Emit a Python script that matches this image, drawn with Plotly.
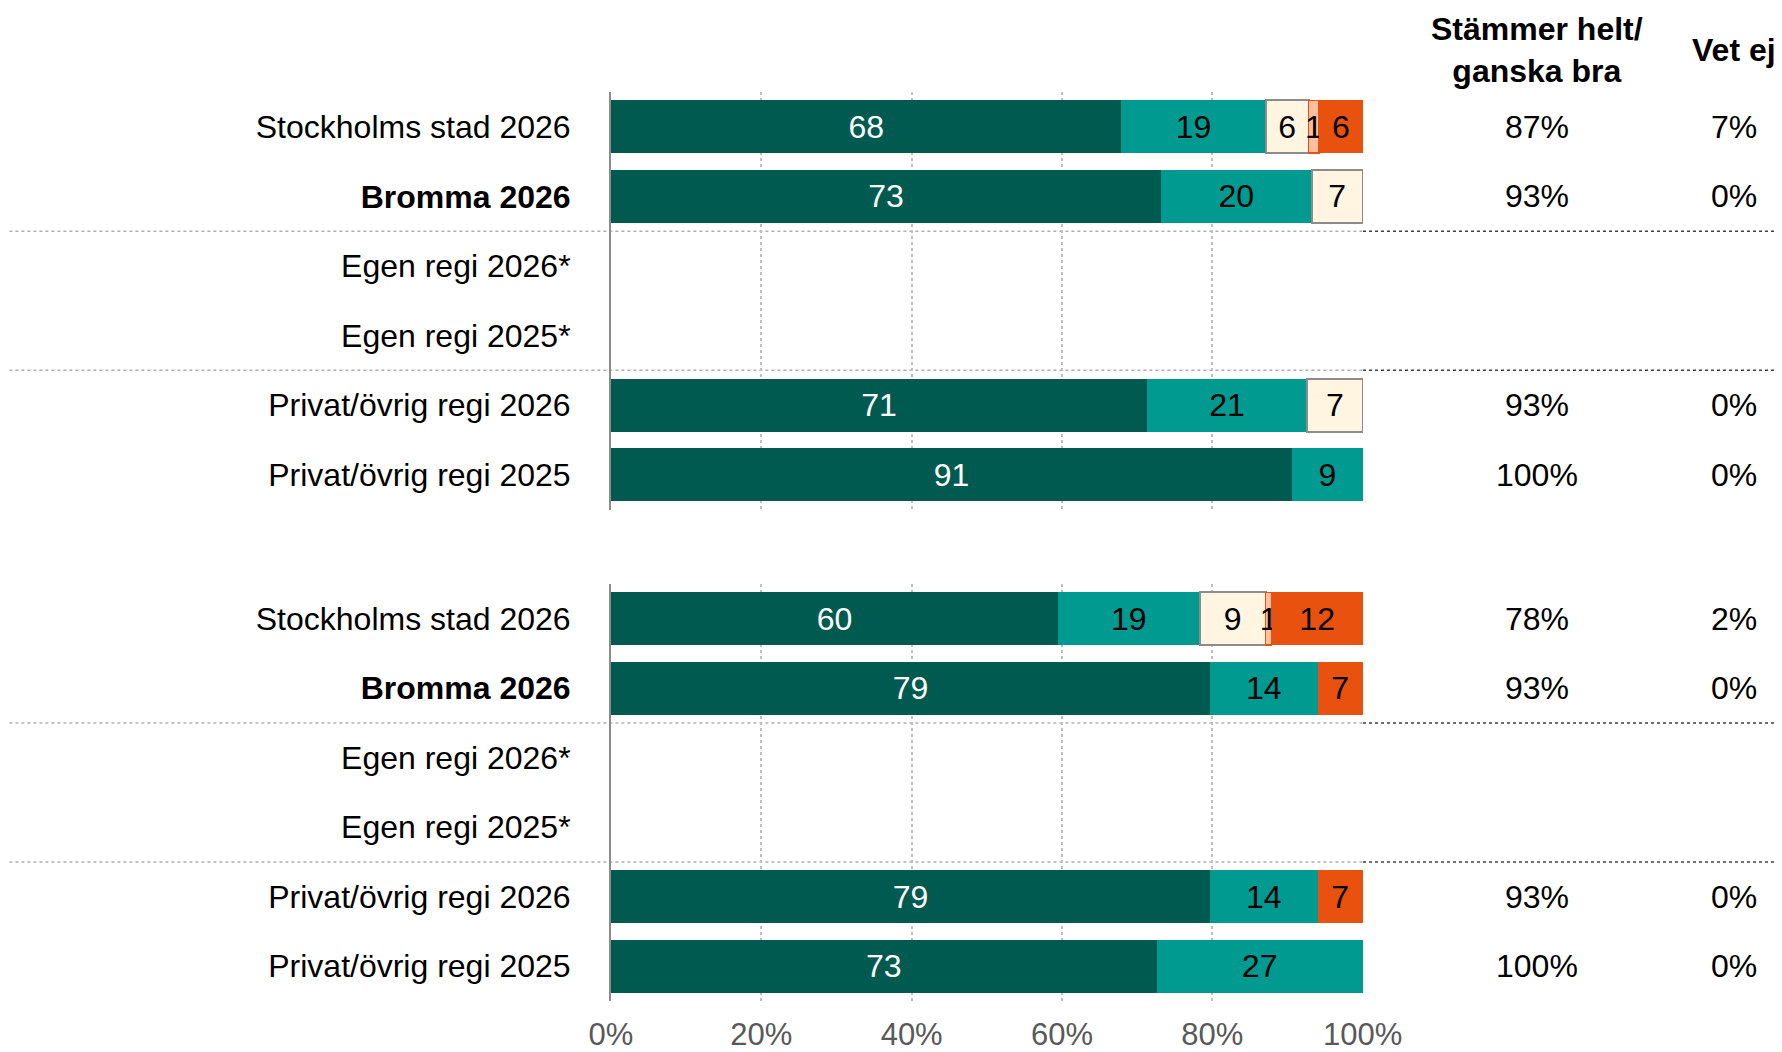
import plotly.graph_objects as go

# ---- data ----
categories = ["Stockholms stad 2026", "<b>Bromma 2026</b>", "Egen regi 2026*",
              "Egen regi 2025*", "Privat/övrig regi 2026", "Privat/övrig regi 2025"]

series_names = ["Stämmer helt", "Stämmer ganska bra", "Stämmer ganska dåligt",
                "Stämmer ganska dåligt/inte alls", "Stämmer inte alls"]

# panel 1 (top)
top_helt = [67.9, 73.2, None, None, 71.3, 90.6]
top_ganska = [19.2, 20.0, None, None, 21.3, 9.4]
top_dalig = [5.7, 6.8, None, None, 7.4, None]
top_mellan = [1.4, None, None, None, None, None]
top_inte = [5.8, None, None, None, None, None]
top_labels = [
    [68, 73, None, None, 71, 91],
    [19, 20, None, None, 21, 9],
    [6, 7, None, None, 7, None],
    [1, None, None, None, None, None],
    [6, None, None, None, None, None],
]
top_bra = ["87%", "93%", "", "", "93%", "100%"]
top_vetej = ["7%", "0%", "", "", "0%", "0%"]

# panel 2 (bottom)
bot_helt = [59.5, 79.7, None, None, 79.7, 72.6]
bot_ganska = [18.8, 14.3, None, None, 14.3, 27.4]
bot_dalig = [8.8, None, None, None, None, None]
bot_mellan = [0.8, None, None, None, None, None]
bot_inte = [12.1, 6.0, None, None, 6.0, None]
bot_labels = [
    [60, 79, None, None, 79, 73],
    [19, 14, None, None, 14, 27],
    [9, None, None, None, None, None],
    [1, None, None, None, None, None],
    [12, 7, None, None, 7, None],
]
bot_bra = ["78%", "93%", "", "", "93%", "100%"]
bot_vetej = ["2%", "0%", "", "", "0%", "0%"]

x_ticks = [0, 20, 40, 60, 80, 100]
x_ticktext = ["0%", "20%", "40%", "60%", "80%", "100%"]
header_bra = "<b>Stämmer helt/<br>ganska bra</b>"
header_vetej = "<b>Vet ej</b>"

# ---- styles ----
FONT = "Liberation Sans, Arial, sans-serif"
FS = 32
fills = ["#005A50", "#009A91", "#FFF5E1", "#F9BFA0", "#E9520E"]
edges = ["#005A50", "#009A91", "#8C8C8C", "#E9520E", "#E9520E"]
edge_w = [0, 0, 2, 1.5, 0]
txt_col = ["white", "black", "black", "black", "black"]

# page offset (body margin) compensation
OFF = 8
W, H = 1782 - OFF, 1052 - OFF
PL, PR = 611 - OFF, 1363.5 - OFF          # plot area x in figure px
PT, PB = 91.7 - OFF, 1000.8 - OFF         # plot area y in figure px
PW, PH = PR - PL, PB - PT
XMAX = 100.05

fig = go.Figure()

panels = [
    ("x", "y", [top_helt, top_ganska, top_dalig, top_mellan, top_inte], top_labels),
    ("x2", "y2", [bot_helt, bot_ganska, bot_dalig, bot_mellan, bot_inte], bot_labels),
]
for xa, ya, vals, labs in panels:
    for i, (v, lab) in enumerate(zip(vals, labs)):
        fig.add_trace(go.Bar(
            x=v, y=categories, orientation="h", xaxis=xa, yaxis=ya,
            name=series_names[i], showlegend=False,
            marker=dict(color=fills[i], line=dict(color=edges[i], width=edge_w[i])),
            width=0.76,
            text=["" if t is None else str(t) for t in lab],
            textposition="inside", insidetextanchor="middle", textangle=0,
            textfont=dict(family=FONT, size=FS, color=txt_col[i]),
            cliponaxis=False,
        ))

grid = dict(showgrid=True, gridcolor="#BFBFBF", gridwidth=2, griddash="dot",
            range=[0, XMAX], tickvals=x_ticks, zeroline=False, showline=False,
            fixedrange=True)
ycommon = dict(range=[5.5, -0.5], showgrid=False, showline=True, linecolor="#8C8C8C",
               linewidth=2, ticks="", ticklabelstandoff=32,
               tickfont=dict(family=FONT, size=FS, color="black"))

fig.update_layout(
    width=W, height=H,
    margin=dict(l=PL, r=W - PR, t=PT, b=H - PB, autoexpand=False),
    paper_bgcolor="white", plot_bgcolor="white",
    barmode="stack", showlegend=False,
    uniformtext=dict(minsize=FS, mode="show"),
    font=dict(family=FONT, size=FS, color="black"),
    xaxis=dict(domain=[0, 1], anchor="y", showticklabels=False, **grid),
    yaxis=dict(domain=[(1000.8 - 509.3) / 909.1, 1], anchor="x", **ycommon),
    xaxis2=dict(domain=[0, 1], anchor="y2", showticklabels=True, ticktext=x_ticktext,
                ticks="", ticklabelstandoff=12,
                tickfont=dict(family=FONT, size=31, color="#595959"), **grid),
    yaxis2=dict(domain=[0, (1000.8 - 583.7) / 909.1], anchor="x2", **ycommon),
)

# separator lines between groups
x_left = -(PL - (9 - OFF)) / PW
x_right = (W - PL) / PW
for ya in ["y", "y2"]:
    for yy in [1.5, 3.5]:
        fig.add_shape(type="line", xref="paper", yref=ya, x0=x_left, x1=1, y0=yy, y1=yy,
                      line=dict(color="#B0B0B0", width=1.5, dash="dot"), layer="below")
        fig.add_shape(type="line", xref="paper", yref=ya, x0=1, x1=x_right, y0=yy, y1=yy,
                      line=dict(color="#404040", width=1.5, dash="dot"))

# right-hand columns
col_bra = (1537.7 - 611) / PW
col_vet = (1734.3 - 611) / PW
for ya, bra, vet in [("y", top_bra, top_vetej), ("y2", bot_bra, bot_vetej)]:
    for cat, b, v in zip(categories, bra, vet):
        if b:
            fig.add_annotation(x=col_bra, y=cat, xref="paper", yref=ya, text=b,
                               showarrow=False, xanchor="center", yanchor="middle",
                               font=dict(family=FONT, size=FS, color="black"))
        if v:
            fig.add_annotation(x=col_vet, y=cat, xref="paper", yref=ya, text=v,
                               showarrow=False, xanchor="center", yanchor="middle",
                               font=dict(family=FONT, size=FS, color="black"))

hdr_y = (1000.8 - 50) / 909.1
fig.add_annotation(x=col_bra, y=hdr_y, xref="paper", yref="paper", text=header_bra,
                   showarrow=False, xanchor="center", yanchor="middle",
                   font=dict(family=FONT, size=FS, color="black"))
fig.add_annotation(x=col_vet, y=hdr_y, xref="paper", yref="paper", text=header_vetej,
                   showarrow=False, xanchor="center", yanchor="middle",
                   font=dict(family=FONT, size=FS, color="black"))

fig.write_html("out.html")
